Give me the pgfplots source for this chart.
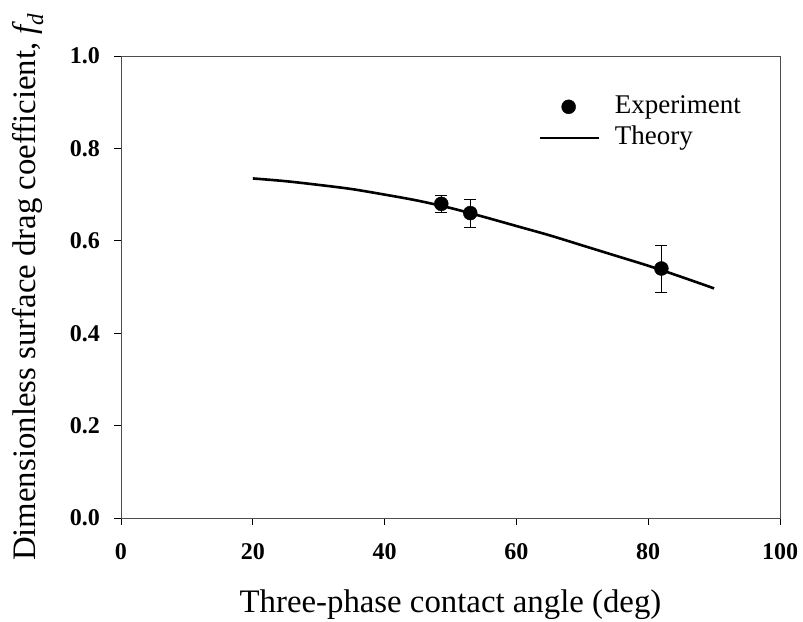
\documentclass[border=0pt]{standalone}
\usepackage{pgfplots}
\pgfplotsset{compat=1.18}
\usepackage{fontspec}
\setmainfont{Liberation Serif}

\begin{document}
\begin{tikzpicture}
\begin{axis}[
    scale only axis,
    width=659pt, height=462pt,
    xmin=0, xmax=100,
    ymin=0, ymax=1.0,
    xtick={0,20,40,60,80,100},
    ytick={0,0.2,0.4,0.6,0.8,1.0},
    xtick pos=bottom, ytick pos=left,
    tick align=outside,
    major tick length=6.5pt,
    tick style={black, line width=0.8pt},
    axis line style={black!70, line width=0.9pt},
    /pgf/number format/assume math mode=true,
    yticklabel style={/pgf/number format/fixed, /pgf/number format/fixed zerofill,
        /pgf/number format/precision=1, xshift=-11pt},
    ticklabel style={font=\fontsize{24}{28}\selectfont\bfseries},
    xticklabel style={yshift=-16pt},
    xlabel={Three-phase contact angle (deg)},
    ylabel={Dimensionless surface drag coefficient, \textit{f\textsubscript{d}}},
    label style={font=\fontsize{32.8}{38}\selectfont},
    xlabel style={at={([yshift=-94pt]rel axis cs:0.5,0)}, anchor=base},
    ylabel style={at={([xshift=-93pt]rel axis cs:0,0.5)}, anchor=center},
    legend style={draw=none, fill=none, at={(rel axis cs:0.633,0.924)}, anchor=north west,
        font=\fontsize{27}{31}\selectfont, inner sep=0pt, row sep=0pt, column sep=12pt,
        nodes={text height=19pt, text depth=6pt, inner sep=3pt}},
    legend cell align=left,
]

\addplot[only marks, mark=*, mark size=7pt, black,
    legend image code/.code={\fill[black] (29pt,0pt) circle (7pt);},
    error bars/.cd, y dir=both, y explicit,
    error bar style={line width=0.8pt, black},
    error mark options={rotate=90, mark size=6pt, line width=0.8pt, black}]
    coordinates {
    (48.6,0.680) +- (0,0.019)
    (53.0,0.660) +- (0,0.030)
    (82.0,0.540) +- (0,0.051)
    };
\addlegendentry{Experiment}

\addplot[black, line width=2.6pt, smooth,
    legend image code/.code={\draw[line width=2.6pt] (0pt,0pt) -- (59pt,0pt);}]
    coordinates {
    (20,0.735) (25,0.729) (30,0.721) (35,0.712) (40,0.700) (45,0.687)
    (50,0.671) (55,0.652) (60,0.632) (65,0.612) (70,0.590) (75,0.568)
    (80,0.546) (85,0.522) (90,0.497)
    };
\addlegendentry{Theory}

\end{axis}
\pgfresetboundingbox
\useasboundingbox (current axis.south west) ++(-121pt,-103pt) rectangle ++(803pt,621pt);
\end{tikzpicture}
\end{document}
